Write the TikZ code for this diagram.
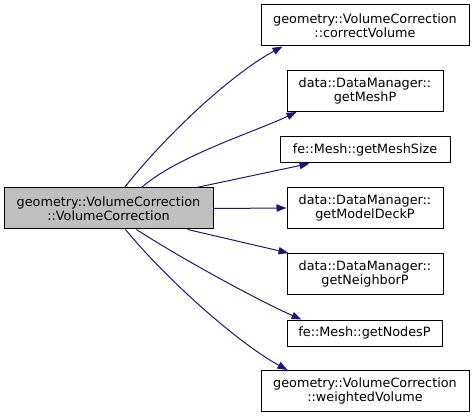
\documentclass[tikz,border=0pt]{standalone}
\usepackage{fontspec}
\setmainfont{DejaVu Sans}
\usetikzlibrary{arrows.meta,calc}
\definecolor{edgeblue}{RGB}{25,25,112}
\definecolor{maingray}{RGB}{191,191,191}
\begin{document}
\begin{tikzpicture}[x=0.75pt,y=-0.75pt,
  box/.style={draw=black, line width=0.75pt, fill=white, align=center, inner sep=0pt,
    font=\fontsize{9.6}{10.6}\selectfont},
  twoline/.style={minimum height=30.75pt},
  oneline/.style={minimum height=19.5pt},
  edge/.style={draw=edgeblue, line width=0.75pt, -{Triangle[length=7.5pt,width=5.5pt]}}]
\useasboundingbox (0,0) rectangle (475,417);
\node[box, twoline, fill=maingray, minimum width=156.75pt] (main) at (108.5,208.5) {geometry::VolumeCorrection\\::VolumeCorrection};
\node[box, twoline, minimum width=156pt] (cv) at (365,25.5) {geometry::VolumeCorrection\\::correctVolume};
\node[box, twoline, minimum width=117pt] (gmp) at (365,91) {data::DataManager::\\getMeshP};
\node[box, oneline, minimum width=127.5pt] (gms) at (365,150) {fe::Mesh::getMeshSize};
\node[box, twoline, minimum width=117pt] (gmd) at (365,208) {data::DataManager::\\getModelDeckP};
\node[box, twoline, minimum width=117pt] (gnb) at (365,274) {data::DataManager::\\getNeighborP};
\node[box, oneline, minimum width=116.25pt] (gnp) at (364.5,333) {fe::Mesh::getNodesP};
\node[box, twoline, minimum width=156pt] (wv) at (365,391) {geometry::VolumeCorrection\\::weightedVolume};

\draw[edge] ($(main.north west)+(121,0)$) .. controls (170,130) and (235,72) .. ($(cv.south west)+(22,0)$);
\draw[edge] ($(main.north west)+(138,0)$) .. controls (177,156) and (257,131) .. ($(gmp.south west)+(10,0)$);
\draw[edge] ($(main.north west)+(193,0)$) -- ($(gms.south west)+(30,0)$);
\draw[edge] (main.east) -- (gmd.west);
\draw[edge] ($(main.south west)+(184,0)$) -- ($(gnb.north west)+(2,0)$);
\draw[edge] ($(main.south west)+(133,0)$) .. controls (177,256) and (257,300) .. ($(gnp.north west)+(15,0)$);
\draw[edge] ($(main.south west)+(122,0)$) .. controls (166,279) and (238,343) .. ($(wv.north west)+(27,0)$);
\end{tikzpicture}
\end{document}
